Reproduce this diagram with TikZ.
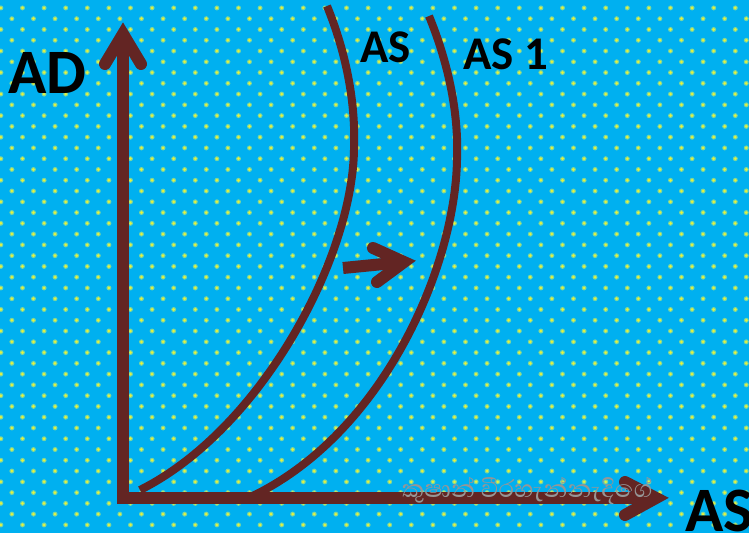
\documentclass[tikz,border=0pt]{standalone}
\usepackage{fontspec}
\setmainfont{Carlito}
\newfontfamily\sinhalafont[Script=Sinhala]{Abhaya Libre}
\usetikzlibrary{positioning, calc}
\definecolor{skyback}{RGB}{0,176,240}
\definecolor{axisbrown}{RGB}{99,37,35}
\definecolor{dotyellow}{RGB}{230,242,60}
\definecolor{dotglow}{RGB}{120,214,160}
\definecolor{creditgray}{RGB}{150,150,150}

\begin{document}
\begin{tikzpicture}[
        x=0.03cm, y=-0.03cm,
        axisline/.style={line width=0.36cm, draw=axisbrown, line join=miter},
        chevron/.style={line width=0.36cm, draw=axisbrown, line cap=round, line join=miter},
        curveline/.style={line width=0.24cm, draw=axisbrown},
        axlabel/.style={font=\bfseries\fontsize{54}{54}\selectfont, inner sep=0pt, anchor=base west},
        cvlabel/.style={font=\bfseries\fontsize{40}{40}\selectfont, inner sep=0pt, anchor=base west},
        credit/.style={font=\sinhalafont\fontsize{26.6}{26.6}\selectfont, text=creditgray, inner sep=0pt, anchor=west}
    ]
        \fill[skyback] (0,0) rectangle (749,533);
        \useasboundingbox (0,0) rectangle (749,533);
        \clip (0,0) rectangle (749,533);
        \foreach \j in {-7,...,41} {
            \pgfmathsetmacro\rowy{83.33+\j*10.77}
            \pgfmathsetmacro\rowx{mod(\j+8,2)==1 ? 0.9 : 11.87}
            \foreach \k in {0,...,35} {
                \fill[dotglow] (\rowx+\k*21.6, \rowy) circle[radius=0.075cm];
                \fill[dotyellow] (\rowx+\k*21.6, \rowy) circle[radius=0.045cm];
            }
        }
        % supply curves
        \draw[curveline] (327,6) .. controls (345,50) and (356,100) .. (354,150)
            .. controls (352,260) and (260,430) .. (140,490);
        \draw[curveline] (429,16) .. controls (447,60) and (459,110) .. (457,160)
            .. controls (455,270) and (380,440) .. (244,500);
        % axes
        \coordinate (origin) at (123,498);
        \coordinate (ytop) at (123,34);
        \coordinate (xend) at (656,498);
        \draw[axisline] (ytop) -- (origin) -- (xend);
        \draw[chevron] ($(ytop)+(-18,30)$) -- (ytop) -- ($(ytop)+(18,30)$);
        \draw[chevron] ($(xend)+(-31,-16)$) -- (xend) -- ($(xend)+(-31,17)$);
        % shift arrow
        \coordinate (shiftfrom) at (343,268);
        \coordinate (shiftto) at (404,262);
        \draw[axisline] (shiftfrom) -- (shiftto);
        \draw[chevron] ($(shiftto)+(-31,-14)$) -- (shiftto) -- ($(shiftto)+(-27,20)$);
        \node[credit] (credit) at (402,491) {කුෂාන් වීරහැන්නැදිගේ};
        \node[axlabel] (adlabel) at (8,93) {AD};
        \node[cvlabel] (aslabel) at (360,62) {AS};
        \node[cvlabel] (asonelabel) at (463,69) {AS 1};
        \node[axlabel] (aslabelx) at (685,531) {AS};
    \end{tikzpicture}
\end{document}
